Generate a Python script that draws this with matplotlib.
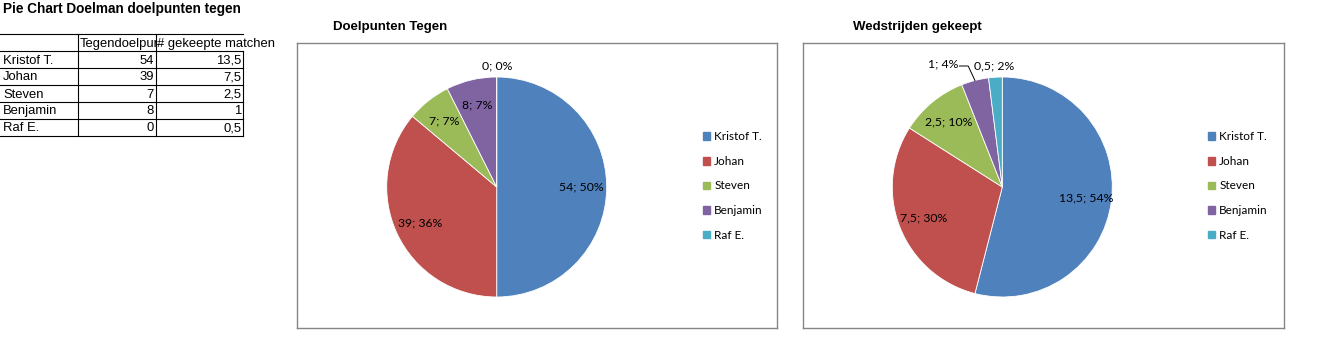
import numpy as np
import matplotlib.pyplot as plt
from matplotlib.patches import Rectangle
from matplotlib.transforms import Bbox, TransformedBbox

# =========================
# DATA
# =========================
sheet_title = "Pie Chart Doelman doelpunten tegen"
players = ["Kristof T.", "Johan", "Steven", "Benjamin", "Raf E."]
col_headers = ["Tegendoelpunten", "# gekeepte matchen"]
goals_against = [54, 39, 7, 8, 0]
matches_kept = [13.5, 7.5, 2.5, 1, 0.5]
chart_titles = ["Doelpunten Tegen", "Wedstrijden gekeept"]

colors = ["#4F81BD", "#C0504D", "#9BBB59", "#8064A2", "#4BACC6"]

# =========================
# FIGURE (pixel helpers)
# =========================
W, H = 1322, 358
fig = plt.figure(figsize=(W / 100, H / 100), dpi=100)
fig.patch.set_facecolor("white")

LABEL_FONT = "Lato"
SHEET_FONT = "Liberation Sans"
SHEET_SIZE = 9.4
LABEL_SIZE = 8.8


def px_axes(x0, y0, x1, y1):
    # box given in pixels, origin top-left
    return fig.add_axes([x0 / W, 1 - y1 / H, (x1 - x0) / W, (y1 - y0) / H])


def fmt_num(v):
    return f"{v:g}".replace(".", ",")


def excel_pcts(vals):
    # rounded percentages that add up to 100 (largest remainder)
    raw = np.array(vals, dtype=float) / sum(vals) * 100
    fl = np.floor(raw + 1e-9)
    need = int(round(100 - fl.sum()))
    order = np.argsort(-(raw - fl))
    fl[order[:need]] += 1
    return fl.astype(int)


# =========================
# SHEET TABLE
# =========================
tab = px_axes(0, 0, 290, 140)
tab.set_xlim(0, 290)
tab.set_ylim(140, 0)
tab.axis("off")

tab.text(3, 9, sheet_title, fontsize=9.8, fontweight="bold",
         family=SHEET_FONT, va="center", ha="left")

row_lines = [34, 51, 68, 85, 102, 119, 136]
for y in row_lines:
    tab.plot([0, 243], [y, y], color="black", lw=0.8)
tab.plot([78, 78], [34, 136], color="black", lw=0.8)
tab.plot([156, 156], [34, 136], color="black", lw=0.8)
tab.plot([243, 243], [51, 136], color="black", lw=0.8)

# header cell text is cut off at the column border, like in the sheet
hdr = tab.text(80, 43.5, col_headers[0], fontsize=SHEET_SIZE, family=SHEET_FONT,
               va="center", ha="left", clip_on=True)
hdr.set_clip_box(TransformedBbox(Bbox.from_extents(78, 34, 156, 51), tab.transData))
tab.text(157, 43.5, col_headers[1], fontsize=SHEET_SIZE, family=SHEET_FONT,
         va="center", ha="left")

for i, name in enumerate(players):
    yc = (row_lines[i + 1] + row_lines[i + 2]) / 2 + 1
    tab.text(3, yc, name, fontsize=SHEET_SIZE, family=SHEET_FONT,
             va="center", ha="left")
    tab.text(154, yc, fmt_num(goals_against[i]), fontsize=SHEET_SIZE,
             family=SHEET_FONT, va="center", ha="right")
    tab.text(241, yc, fmt_num(matches_kept[i]), fontsize=SHEET_SIZE,
             family=SHEET_FONT, va="center", ha="right")


# =========================
# PIE CHARTS
# =========================
def draw_pie(values, title, title_x, box, cx, legend_x, leader_spots):
    x0, y0, x1, y1 = box
    frame = px_axes(x0, y0, x1, y1)
    frame.set_xticks([])
    frame.set_yticks([])
    for s in frame.spines.values():
        s.set_color("#868686")
        s.set_linewidth(1)

    fig.text(title_x / W, 1 - 27 / H, title, fontsize=9.5, fontweight="bold",
             family=SHEET_FONT, va="center", ha="left")

    cy, r, k = 187, 110, 1.3
    ax = px_axes(cx - r * k, cy - r * k, cx + r * k, cy + r * k)
    ax.pie(values, colors=colors, startangle=90, counterclock=False,
           radius=1, wedgeprops=dict(edgecolor="white", linewidth=0.6))
    ax.set_xlim(-k, k)
    ax.set_ylim(-k, k)
    ax.axis("off")

    total = sum(values)
    pcts = excel_pcts(values)
    cum = 0
    for i, v in enumerate(values):
        t1 = 90 - 360 * cum / total
        cum += v
        t2 = 90 - 360 * cum / total
        mid = np.deg2rad((t1 + t2) / 2)
        label = f"{fmt_num(v)}; {pcts[i]}%"
        if i in leader_spots:
            tx, ty = leader_spots[i]
            ex, ey = np.cos(mid), np.sin(mid)
            ax.plot([tx + 0.01, tx + 0.09, ex], [ty - 0.02, ty - 0.02, ey],
                    color="black", lw=0.7)
            ax.text(tx, ty, label, fontsize=LABEL_SIZE, family=LABEL_FONT,
                    ha="right", va="center")
        elif v / total < 0.05:
            ax.text(1.12 * np.cos(mid), 1.1 * np.sin(mid), label,
                    fontsize=LABEL_SIZE, family=LABEL_FONT,
                    ha="center", va="center")
        else:
            ax.text(0.77 * np.cos(mid), 0.77 * np.sin(mid), label,
                    fontsize=LABEL_SIZE, family=LABEL_FONT,
                    ha="center", va="center")

    handles = [Rectangle((0, 0), 1, 1, color=c) for c in colors]
    fig.legend(handles, players, loc="center left",
               bbox_to_anchor=(legend_x / W, 1 - 186 / H), frameon=False,
               prop={"family": LABEL_FONT, "size": 8.5},
               handlelength=0.6, handleheight=0.6, handletextpad=0.35,
               labelspacing=1.15, borderpad=0, borderaxespad=0)


draw_pie(goals_against, chart_titles[0], 333, (297, 43, 777, 328), 496.7, 703, {})
draw_pie(matches_kept, chart_titles[1], 853, (803, 43, 1284, 328), 1002.3, 1208,
         {3: (-0.40, 1.12)})

fig.savefig("out.png", dpi=100)
